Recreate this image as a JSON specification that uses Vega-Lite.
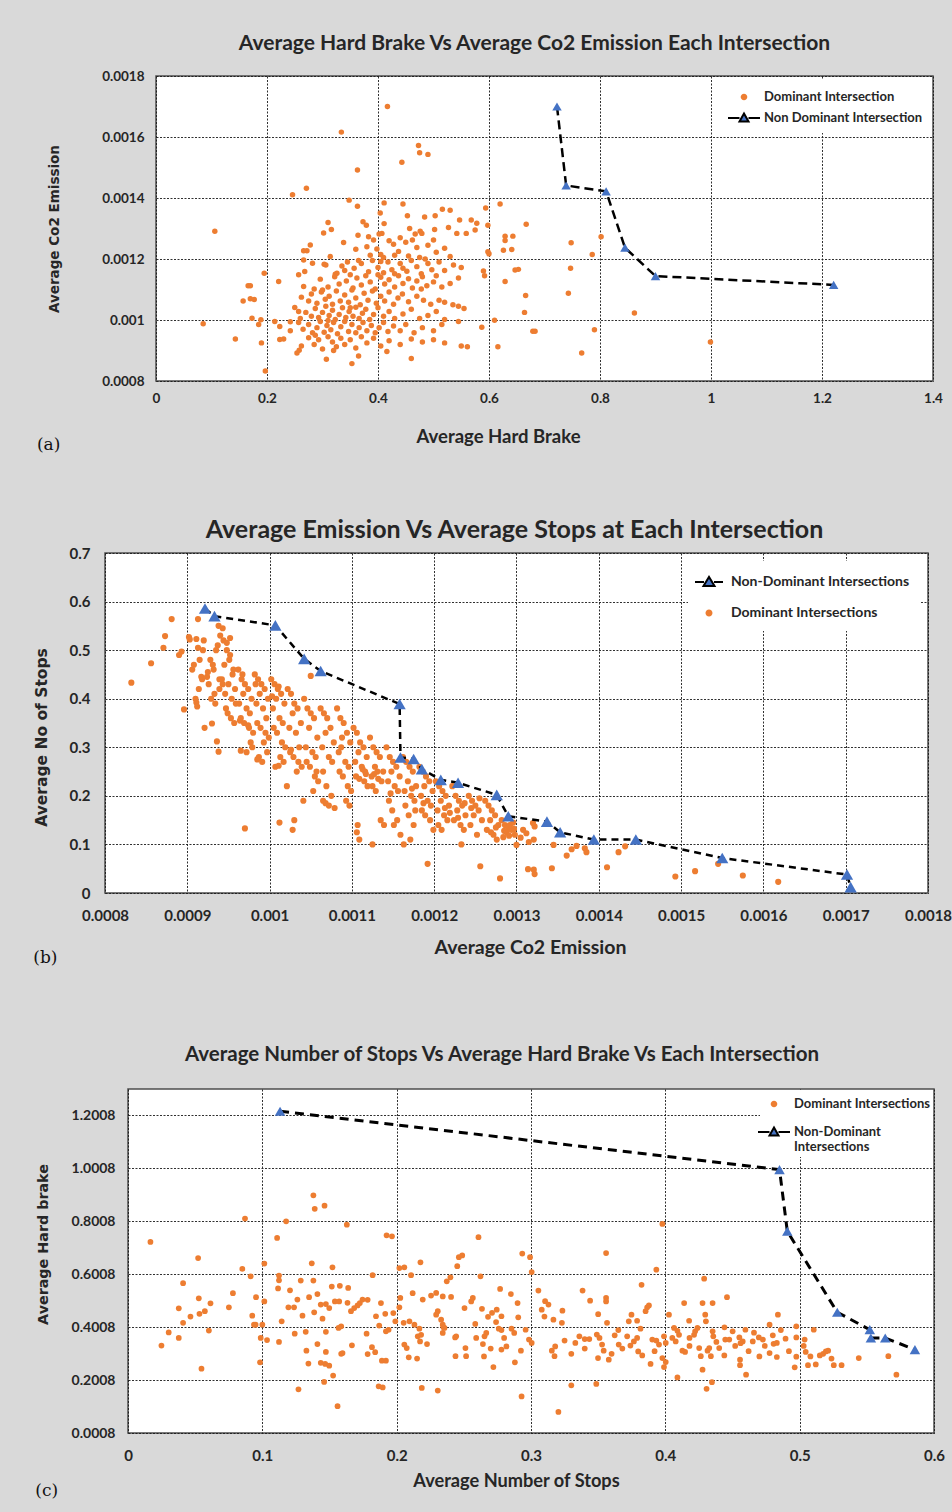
{
"$schema":"https://vega.github.io/schema/vega-lite/v6.json",
"padding":{"left":33,"top":32,"right":20,"bottom":14},
"background":"#d9d9d9",
"spacing":64,
"align":"none",
"resolve":{"scale":{"color":"independent"},"legend":{"color":"independent"}},
"config":{
 "view":{"fill":"white","stroke":"#4d4d4d","strokeWidth":1.5},
 "axis":{"grid":true,"gridColor":"#1a1a1a","gridDash":[2,1.5],"gridWidth":1,"gridOpacity":0.9,"domain":false,"ticks":false,"labelFont":"Lato","labelFontWeight":"bold","labelColor":"#262626","titleFont":"Lato","titleFontWeight":"bold","titleColor":"#262626","labelFlush":false,"labelOverlap":false},
 "title":{"font":"Lato","fontWeight":"bold","color":"#262626"},
 "legend":{"title":null,"fillColor":"white","symbolSize":400,"labelFont":"Lato","labelFontWeight":"bold","labelColor":"#262626","labelLimit":400,"symbolStrokeWidth":2,"symbolOpacity":1}
},
"datasets":{
"a_dom":[
{"x":0.417,"y":0.0017},{"x":0.334,"y":0.001616},{"x":0.473,"y":0.001572},{"x":0.475,"y":0.001548},{"x":0.49,"y":0.001543},{"x":0.443,"y":0.001517},{"x":0.363,"y":0.001492},{"x":0.246,"y":0.001411},{"x":0.271,"y":0.001432},{"x":0.348,"y":0.001393},{"x":0.363,"y":0.001373},{"x":0.411,"y":0.001384},{"x":0.445,"y":0.00138},{"x":0.62,"y":0.00138},{"x":0.404,"y":0.001351},{"x":0.594,"y":0.001367},{"x":0.516,"y":0.001363},{"x":0.53,"y":0.00136},{"x":0.503,"y":0.001342},{"x":0.453,"y":0.001342},{"x":0.484,"y":0.001338},{"x":0.667,"y":0.001314},{"x":0.106,"y":0.001291},
{"x":0.748,"y":0.001253},{"x":0.802,"y":0.001273},{"x":0.786,"y":0.001215},{"x":0.747,"y":0.00117},{"x":0.743,"y":0.001088},{"x":0.79,"y":0.000968},{"x":0.767,"y":0.000892},{"x":0.862,"y":0.001023},{"x":0.999,"y":0.000928},
{"x":0.629,"y":0.001275},{"x":0.643,"y":0.001275},{"x":0.629,"y":0.001261},{"x":0.626,"y":0.001229},{"x":0.641,"y":0.001231},{"x":0.647,"y":0.001164},{"x":0.653,"y":0.001166},{"x":0.59,"y":0.001161},{"x":0.592,"y":0.001145},{"x":0.629,"y":0.001126},{"x":0.666,"y":0.00108},{"x":0.664,"y":0.001025},{"x":0.679,"y":0.000963},{"x":0.683,"y":0.000963},{"x":0.61,"y":0.000999},{"x":0.587,"y":0.000976},{"x":0.616,"y":0.000912},{"x":0.561,"y":0.000912},{"x":0.46,"y":0.000874},{"x":0.416,"y":0.000897},{"x":0.365,"y":0.000882},{"x":0.353,"y":0.000857},{"x":0.307,"y":0.000871},{"x":0.197,"y":0.000833},{"x":0.085,"y":0.000988},{"x":0.143,"y":0.000938},{"x":0.157,"y":0.001062},{"x":0.17,"y":0.00107},{"x":0.177,"y":0.001067},{"x":0.166,"y":0.001112},{"x":0.17,"y":0.001112},{"x":0.173,"y":0.001006},{"x":0.185,"y":0.000985},{"x":0.189,"y":0.001001},{"x":0.214,"y":0.000995},{"x":0.223,"y":0.000979},{"x":0.223,"y":0.000936},{"x":0.195,"y":0.001153},{"x":0.221,"y":0.001126},{"x":0.242,"y":0.000994},{"x":0.257,"y":0.000992},{"x":0.254,"y":0.000892},{"x":0.258,"y":0.000901},
{"x":0.31,"y":0.00132},{"x":0.316,"y":0.001297},{"x":0.302,"y":0.001285},{"x":0.373,"y":0.001322},{"x":0.379,"y":0.001311},{"x":0.411,"y":0.001316},{"x":0.407,"y":0.001284},{"x":0.402,"y":0.001282},{"x":0.364,"y":0.001278},{"x":0.383,"y":0.001273},{"x":0.457,"y":0.0013},{"x":0.476,"y":0.001291},{"x":0.467,"y":0.001282},{"x":0.479,"y":0.001284},{"x":0.502,"y":0.001297},{"x":0.527,"y":0.001303},{"x":0.542,"y":0.001284},{"x":0.547,"y":0.001328},{"x":0.559,"y":0.001284},{"x":0.568,"y":0.001328},{"x":0.575,"y":0.001295},{"x":0.578,"y":0.001317},{"x":0.598,"y":0.001311},{"x":0.598,"y":0.001224},{"x":0.6,"y":0.001217},
{"x":0.266,"y":0.001227},{"x":0.272,"y":0.001227},{"x":0.278,"y":0.001246},{"x":0.314,"y":0.001208},{"x":0.338,"y":0.001254},{"x":0.335,"y":0.001177},{"x":0.38,"y":0.00124},{"x":0.392,"y":0.001262},{"x":0.398,"y":0.001233},{"x":0.405,"y":0.001215},{"x":0.42,"y":0.00126},{"x":0.428,"y":0.001248},{"x":0.437,"y":0.001225},{"x":0.45,"y":0.001255},{"x":0.455,"y":0.00121},{"x":0.47,"y":0.001238},{"x":0.49,"y":0.001245},{"x":0.505,"y":0.001222},{"x":0.52,"y":0.001235},{"x":0.36,"y":0.001232},{"x":0.41,"y":0.001205},{"x":0.462,"y":0.001262},{"x":0.44,"y":0.00127},{"x":0.43,"y":0.001212},{"x":0.5,"y":0.001262},{"x":0.386,"y":0.001212},{"x":0.475,"y":0.001205},{"x":0.53,"y":0.001208},
{"x":0.266,"y":0.001197},{"x":0.282,"y":0.001186},{"x":0.303,"y":0.001183},{"x":0.306,"y":0.00118},{"x":0.323,"y":0.00115},{"x":0.326,"y":0.001153},{"x":0.345,"y":0.00119},{"x":0.357,"y":0.00117},{"x":0.37,"y":0.001185},{"x":0.383,"y":0.001158},{"x":0.39,"y":0.001195},{"x":0.4,"y":0.001172},{"x":0.41,"y":0.001155},{"x":0.418,"y":0.00119},{"x":0.425,"y":0.001165},{"x":0.44,"y":0.001185},{"x":0.452,"y":0.00116},{"x":0.46,"y":0.001195},{"x":0.47,"y":0.001175},{"x":0.478,"y":0.001152},{"x":0.49,"y":0.001185},{"x":0.497,"y":0.001165},{"x":0.51,"y":0.00119},{"x":0.52,"y":0.001162},{"x":0.536,"y":0.00118},{"x":0.55,"y":0.001172},{"x":0.268,"y":0.001159},{"x":0.257,"y":0.001148},{"x":0.34,"y":0.001162},{"x":0.365,"y":0.001195},{"x":0.405,"y":0.001192},{"x":0.43,"y":0.001152},{"x":0.445,"y":0.00117},{"x":0.485,"y":0.0012},
{"x":0.266,"y":0.00111},{"x":0.296,"y":0.001134},{"x":0.31,"y":0.001108},{"x":0.322,"y":0.001142},{"x":0.33,"y":0.001118},{"x":0.343,"y":0.001128},{"x":0.355,"y":0.001105},{"x":0.362,"y":0.001138},{"x":0.37,"y":0.001115},{"x":0.378,"y":0.001145},{"x":0.386,"y":0.001125},{"x":0.395,"y":0.001102},{"x":0.405,"y":0.00114},{"x":0.412,"y":0.001118},{"x":0.42,"y":0.001132},{"x":0.43,"y":0.001108},{"x":0.437,"y":0.001145},{"x":0.445,"y":0.00112},{"x":0.455,"y":0.001135},{"x":0.462,"y":0.001105},{"x":0.47,"y":0.001128},{"x":0.48,"y":0.001142},{"x":0.488,"y":0.001112},{"x":0.5,"y":0.001125},{"x":0.505,"y":0.001145},{"x":0.515,"y":0.001108},{"x":0.53,"y":0.00112},{"x":0.478,"y":0.001102},{"x":0.4,"y":0.001148},{"x":0.35,"y":0.001148},{"x":0.285,"y":0.001102},{"x":0.545,"y":0.001138},
{"x":0.25,"y":0.001041},{"x":0.257,"y":0.001028},{"x":0.275,"y":0.001062},{"x":0.28,"y":0.001085},{"x":0.29,"y":0.001055},{"x":0.298,"y":0.001092},{"x":0.305,"y":0.001068},{"x":0.312,"y":0.001078},{"x":0.318,"y":0.001052},{"x":0.325,"y":0.001095},{"x":0.332,"y":0.001062},{"x":0.34,"y":0.001082},{"x":0.347,"y":0.001058},{"x":0.353,"y":0.001098},{"x":0.36,"y":0.001072},{"x":0.368,"y":0.00105},{"x":0.375,"y":0.001088},{"x":0.382,"y":0.001065},{"x":0.39,"y":0.001095},{"x":0.397,"y":0.001055},{"x":0.405,"y":0.001078},{"x":0.412,"y":0.001062},{"x":0.42,"y":0.001092},{"x":0.428,"y":0.001052},{"x":0.436,"y":0.001072},{"x":0.444,"y":0.001085},{"x":0.455,"y":0.00106},{"x":0.47,"y":0.001078},{"x":0.482,"y":0.001065},{"x":0.495,"y":0.001052},{"x":0.51,"y":0.001065},{"x":0.52,"y":0.001058},{"x":0.535,"y":0.00105},{"x":0.545,"y":0.001045},{"x":0.555,"y":0.001038},{"x":0.262,"y":0.001075},{"x":0.3,"y":0.001098},
{"x":0.26,"y":0.001005},{"x":0.27,"y":0.001025},{"x":0.28,"y":0.001012},{"x":0.287,"y":0.001038},{"x":0.293,"y":0.001008},{"x":0.3,"y":0.001025},{"x":0.306,"y":0.001045},{"x":0.312,"y":0.001015},{"x":0.318,"y":0.001032},{"x":0.323,"y":0.001002},{"x":0.33,"y":0.001018},{"x":0.336,"y":0.00104},{"x":0.342,"y":0.001008},{"x":0.348,"y":0.001028},{"x":0.355,"y":0.001012},{"x":0.36,"y":0.001042},{"x":0.366,"y":0.001005},{"x":0.372,"y":0.001022},{"x":0.378,"y":0.001035},{"x":0.385,"y":0.001002},{"x":0.392,"y":0.001018},{"x":0.4,"y":0.00104},{"x":0.41,"y":0.001012},{"x":0.42,"y":0.001028},{"x":0.43,"y":0.001005},{"x":0.445,"y":0.00102},{"x":0.46,"y":0.001035},{"x":0.475,"y":0.001005},{"x":0.49,"y":0.001015},{"x":0.505,"y":0.001028},{"x":0.52,"y":0.001002},{"x":0.545,"y":0.000995},{"x":0.31,"y":0.000998},{"x":0.35,"y":0.00104},
{"x":0.265,"y":0.00097},{"x":0.275,"y":0.000985},{"x":0.282,"y":0.000958},{"x":0.29,"y":0.000975},{"x":0.296,"y":0.000995},{"x":0.303,"y":0.00096},{"x":0.308,"y":0.000982},{"x":0.315,"y":0.000968},{"x":0.32,"y":0.000992},{"x":0.327,"y":0.000955},{"x":0.333,"y":0.000978},{"x":0.34,"y":0.000995},{"x":0.347,"y":0.000962},{"x":0.353,"y":0.000985},{"x":0.36,"y":0.000958},{"x":0.366,"y":0.000975},{"x":0.373,"y":0.000992},{"x":0.38,"y":0.000965},{"x":0.388,"y":0.000982},{"x":0.395,"y":0.000958},{"x":0.402,"y":0.000975},{"x":0.41,"y":0.000992},{"x":0.418,"y":0.000962},{"x":0.428,"y":0.00098},{"x":0.44,"y":0.000965},{"x":0.45,"y":0.000985},{"x":0.465,"y":0.000958},{"x":0.48,"y":0.000975},{"x":0.5,"y":0.000965},{"x":0.515,"y":0.000985},{"x":0.242,"y":0.000965},{"x":0.287,"y":0.00095},
{"x":0.19,"y":0.000925},{"x":0.23,"y":0.000938},{"x":0.262,"y":0.000915},{"x":0.275,"y":0.000942},{"x":0.285,"y":0.00092},{"x":0.293,"y":0.000935},{"x":0.3,"y":0.000905},{"x":0.31,"y":0.000945},{"x":0.318,"y":0.000928},{"x":0.325,"y":0.000912},{"x":0.333,"y":0.00094},{"x":0.34,"y":0.00092},{"x":0.35,"y":0.000935},{"x":0.36,"y":0.000908},{"x":0.37,"y":0.000945},{"x":0.38,"y":0.000925},{"x":0.392,"y":0.00094},{"x":0.405,"y":0.000915},{"x":0.42,"y":0.000932},{"x":0.44,"y":0.00092},{"x":0.46,"y":0.000938},{"x":0.48,"y":0.000928},{"x":0.5,"y":0.000935},{"x":0.52,"y":0.000925},{"x":0.55,"y":0.000915},{"x":0.32,"y":0.0009}
],
"a_nd":[{"x":0.7225,"y":0.0017},{"x":0.739,"y":0.001441},{"x":0.811,"y":0.001422},{"x":0.845,"y":0.001237},{"x":0.9,"y":0.001144},{"x":1.221,"y":0.001115}],
"b_dom":[
{"x":0.000832,"y":0.433},{"x":0.000856,"y":0.473},{"x":0.000871,"y":0.505},{"x":0.000873,"y":0.529},{"x":0.000881,"y":0.564},{"x":0.00089,"y":0.49},{"x":0.000893,"y":0.497},{"x":0.000896,"y":0.378},
{"x":0.000902,"y":0.527},{"x":0.000903,"y":0.522},{"x":0.000913,"y":0.564},{"x":0.000911,"y":0.523},{"x":0.000913,"y":0.505},{"x":0.000911,"y":0.392},{"x":0.000912,"y":0.384},{"x":0.000917,"y":0.445},{"x":0.00092,"y":0.52},{"x":0.000915,"y":0.48},{"x":0.000906,"y":0.46},{"x":0.000918,"y":0.44},{"x":0.000908,"y":0.47},{"x":0.000919,"y":0.5},{"x":0.000914,"y":0.42},{"x":0.00091,"y":0.4},
{"x":0.000921,"y":0.34},{"x":0.00093,"y":0.349},{"x":0.000936,"y":0.312},{"x":0.000938,"y":0.291},{"x":0.000924,"y":0.445},{"x":0.000935,"y":0.5},{"x":0.000928,"y":0.48},{"x":0.000932,"y":0.46},{"x":0.000926,"y":0.43},{"x":0.000939,"y":0.42},{"x":0.000933,"y":0.41},{"x":0.000929,"y":0.4},{"x":0.000937,"y":0.51},{"x":0.00094,"y":0.53},{"x":0.000938,"y":0.55},{"x":0.000943,"y":0.545},{"x":0.000931,"y":0.47},{"x":0.000925,"y":0.455},{"x":0.000934,"y":0.39},{"x":0.000939,"y":0.44},
{"x":0.000944,"y":0.52},{"x":0.000948,"y":0.5},{"x":0.000952,"y":0.49},{"x":0.000945,"y":0.47},{"x":0.000956,"y":0.46},{"x":0.000942,"y":0.44},{"x":0.00095,"y":0.43},{"x":0.000958,"y":0.42},{"x":0.000946,"y":0.41},{"x":0.000954,"y":0.4},{"x":0.000959,"y":0.39},{"x":0.000947,"y":0.38},{"x":0.000953,"y":0.36},{"x":0.000957,"y":0.35},{"x":0.000949,"y":0.37},{"x":0.000955,"y":0.45},{"x":0.000951,"y":0.48},{"x":0.000943,"y":0.43},{"x":0.000965,"y":0.293},{"x":0.000948,"y":0.515},{"x":0.000952,"y":0.525},
{"x":0.000962,"y":0.46},{"x":0.000966,"y":0.44},{"x":0.00097,"y":0.43},{"x":0.000974,"y":0.42},{"x":0.000968,"y":0.41},{"x":0.000978,"y":0.4},{"x":0.000963,"y":0.39},{"x":0.000972,"y":0.38},{"x":0.000976,"y":0.37},{"x":0.000965,"y":0.36},{"x":0.000969,"y":0.35},{"x":0.000975,"y":0.34},{"x":0.00098,"y":0.33},{"x":0.000977,"y":0.31},{"x":0.000979,"y":0.3},{"x":0.000972,"y":0.29},{"x":0.000967,"y":0.45},{"x":0.00097,"y":0.133},{"x":0.000974,"y":0.345},{"x":0.000964,"y":0.355},
{"x":0.000982,"y":0.45},{"x":0.000986,"y":0.44},{"x":0.00099,"y":0.43},{"x":0.000994,"y":0.42},{"x":0.000988,"y":0.41},{"x":0.000998,"y":0.4},{"x":0.000984,"y":0.39},{"x":0.000992,"y":0.38},{"x":0.000996,"y":0.36},{"x":0.000985,"y":0.35},{"x":0.000989,"y":0.34},{"x":0.000995,"y":0.33},{"x":0.000999,"y":0.32},{"x":0.000993,"y":0.31},{"x":0.000997,"y":0.29},{"x":0.000987,"y":0.28},{"x":0.000991,"y":0.27},{"x":0.000983,"y":0.43},{"x":0.000985,"y":0.275},
{"x":0.001002,"y":0.44},{"x":0.001006,"y":0.43},{"x":0.00101,"y":0.42},{"x":0.001014,"y":0.41},{"x":0.001008,"y":0.4},{"x":0.001018,"y":0.39},{"x":0.001004,"y":0.38},{"x":0.001012,"y":0.36},{"x":0.001016,"y":0.35},{"x":0.001005,"y":0.34},{"x":0.001009,"y":0.33},{"x":0.001015,"y":0.31},{"x":0.001019,"y":0.3},{"x":0.001013,"y":0.28},{"x":0.001017,"y":0.27},{"x":0.001007,"y":0.26},{"x":0.001011,"y":0.425},{"x":0.001003,"y":0.405},{"x":0.001011,"y":0.262},
{"x":0.001022,"y":0.42},{"x":0.001026,"y":0.41},{"x":0.00103,"y":0.39},{"x":0.001034,"y":0.38},{"x":0.001028,"y":0.37},{"x":0.001038,"y":0.35},{"x":0.001024,"y":0.34},{"x":0.001032,"y":0.33},{"x":0.001036,"y":0.3},{"x":0.001025,"y":0.29},{"x":0.001029,"y":0.28},{"x":0.001035,"y":0.27},{"x":0.001039,"y":0.26},{"x":0.001033,"y":0.25},{"x":0.001021,"y":0.22},{"x":0.001012,"y":0.145},{"x":0.001028,"y":0.13},{"x":0.00103,"y":0.15},{"x":0.001026,"y":0.295},
{"x":0.001042,"y":0.4},{"x":0.001046,"y":0.38},{"x":0.00105,"y":0.37},{"x":0.001054,"y":0.36},{"x":0.001048,"y":0.34},{"x":0.001058,"y":0.32},{"x":0.001044,"y":0.3},{"x":0.001052,"y":0.29},{"x":0.001056,"y":0.28},{"x":0.001045,"y":0.27},{"x":0.001049,"y":0.26},{"x":0.001055,"y":0.24},{"x":0.001059,"y":0.23},{"x":0.001041,"y":0.19},{"x":0.001053,"y":0.21},{"x":0.00105,"y":0.447},{"x":0.001057,"y":0.25},
{"x":0.001062,"y":0.38},{"x":0.001066,"y":0.37},{"x":0.00107,"y":0.36},{"x":0.001074,"y":0.34},{"x":0.001068,"y":0.33},{"x":0.001078,"y":0.31},{"x":0.001064,"y":0.3},{"x":0.001072,"y":0.28},{"x":0.001076,"y":0.27},{"x":0.001065,"y":0.25},{"x":0.001069,"y":0.22},{"x":0.001075,"y":0.2},{"x":0.001065,"y":0.19},{"x":0.001068,"y":0.185},{"x":0.001072,"y":0.18},{"x":0.001079,"y":0.175},
{"x":0.001082,"y":0.38},{"x":0.001086,"y":0.36},{"x":0.00109,"y":0.35},{"x":0.001094,"y":0.33},{"x":0.001088,"y":0.32},{"x":0.001098,"y":0.31},{"x":0.001084,"y":0.29},{"x":0.001092,"y":0.27},{"x":0.001096,"y":0.26},{"x":0.001085,"y":0.25},{"x":0.001089,"y":0.24},{"x":0.001095,"y":0.22},{"x":0.001099,"y":0.21},{"x":0.001093,"y":0.19},{"x":0.001097,"y":0.18},{"x":0.001087,"y":0.3},
{"x":0.001102,"y":0.34},{"x":0.001106,"y":0.33},{"x":0.00111,"y":0.31},{"x":0.001114,"y":0.3},{"x":0.001108,"y":0.29},{"x":0.001118,"y":0.28},{"x":0.001104,"y":0.27},{"x":0.001112,"y":0.26},{"x":0.001116,"y":0.25},{"x":0.001105,"y":0.24},{"x":0.001109,"y":0.235},{"x":0.001115,"y":0.23},{"x":0.001119,"y":0.22},{"x":0.001107,"y":0.14},{"x":0.001106,"y":0.125},{"x":0.001109,"y":0.11},{"x":0.001113,"y":0.255},{"x":0.001117,"y":0.245},
{"x":0.001122,"y":0.32},{"x":0.001126,"y":0.3},{"x":0.00113,"y":0.29},{"x":0.001134,"y":0.28},{"x":0.001128,"y":0.26},{"x":0.001138,"y":0.25},{"x":0.001124,"y":0.24},{"x":0.001132,"y":0.235},{"x":0.001136,"y":0.23},{"x":0.001125,"y":0.22},{"x":0.001129,"y":0.21},{"x":0.001135,"y":0.15},{"x":0.001125,"y":0.1},{"x":0.001139,"y":0.14},{"x":0.001131,"y":0.25},{"x":0.001127,"y":0.245},
{"x":0.001142,"y":0.3},{"x":0.001146,"y":0.28},{"x":0.00115,"y":0.27},{"x":0.001154,"y":0.26},{"x":0.001148,"y":0.25},{"x":0.001158,"y":0.24},{"x":0.001144,"y":0.23},{"x":0.001152,"y":0.22},{"x":0.001156,"y":0.21},{"x":0.001145,"y":0.19},{"x":0.001149,"y":0.17},{"x":0.001155,"y":0.15},{"x":0.001151,"y":0.14},{"x":0.001159,"y":0.12},{"x":0.001147,"y":0.205},
{"x":0.001162,"y":0.28},{"x":0.001166,"y":0.27},{"x":0.00117,"y":0.26},{"x":0.001174,"y":0.25},{"x":0.001168,"y":0.23},{"x":0.001178,"y":0.22},{"x":0.001164,"y":0.21},{"x":0.001172,"y":0.2},{"x":0.001176,"y":0.19},{"x":0.001165,"y":0.18},{"x":0.001169,"y":0.16},{"x":0.001175,"y":0.14},{"x":0.001163,"y":0.1},{"x":0.001171,"y":0.11},{"x":0.001177,"y":0.17},{"x":0.001173,"y":0.215},
{"x":0.001182,"y":0.26},{"x":0.001186,"y":0.25},{"x":0.00119,"y":0.24},{"x":0.001194,"y":0.23},{"x":0.001188,"y":0.22},{"x":0.001198,"y":0.21},{"x":0.001184,"y":0.2},{"x":0.001192,"y":0.19},{"x":0.001196,"y":0.18},{"x":0.001185,"y":0.17},{"x":0.001189,"y":0.16},{"x":0.001195,"y":0.15},{"x":0.001199,"y":0.13},{"x":0.001192,"y":0.06},{"x":0.001187,"y":0.185},
{"x":0.001202,"y":0.23},{"x":0.001206,"y":0.22},{"x":0.00121,"y":0.21},{"x":0.001214,"y":0.2},{"x":0.001208,"y":0.19},{"x":0.001218,"y":0.18},{"x":0.001204,"y":0.17},{"x":0.001212,"y":0.16},{"x":0.001216,"y":0.15},{"x":0.001205,"y":0.14},{"x":0.001209,"y":0.13},{"x":0.001213,"y":0.175},{"x":0.001219,"y":0.165},
{"x":0.001222,"y":0.22},{"x":0.001226,"y":0.2},{"x":0.00123,"y":0.19},{"x":0.001234,"y":0.18},{"x":0.001228,"y":0.17},{"x":0.001238,"y":0.16},{"x":0.001224,"y":0.15},{"x":0.001232,"y":0.14},{"x":0.001236,"y":0.13},{"x":0.001233,"y":0.1},{"x":0.001229,"y":0.155},{"x":0.001237,"y":0.185},
{"x":0.001242,"y":0.2},{"x":0.001246,"y":0.19},{"x":0.00125,"y":0.18},{"x":0.001254,"y":0.17},{"x":0.001248,"y":0.16},{"x":0.001258,"y":0.15},{"x":0.001244,"y":0.14},{"x":0.001252,"y":0.12},{"x":0.001256,"y":0.055},{"x":0.001245,"y":0.175},{"x":0.001255,"y":0.195},
{"x":0.001262,"y":0.19},{"x":0.001266,"y":0.18},{"x":0.00127,"y":0.17},{"x":0.001274,"y":0.16},{"x":0.001268,"y":0.15},{"x":0.001278,"y":0.14},{"x":0.001264,"y":0.13},{"x":0.001272,"y":0.12},{"x":0.001276,"y":0.11},{"x":0.00128,"y":0.03},{"x":0.001269,"y":0.125},{"x":0.001275,"y":0.135},
{"x":0.001282,"y":0.15},{"x":0.001286,"y":0.14},{"x":0.00129,"y":0.135},{"x":0.001294,"y":0.13},{"x":0.001288,"y":0.125},{"x":0.001298,"y":0.12},{"x":0.001284,"y":0.115},{"x":0.001292,"y":0.14},{"x":0.001296,"y":0.145},{"x":0.0013,"y":0.099},{"x":0.001291,"y":0.118},{"x":0.001285,"y":0.128},{"x":0.001297,"y":0.132},
{"x":0.001305,"y":0.114},{"x":0.001312,"y":0.123},{"x":0.001321,"y":0.11},{"x":0.001322,"y":0.137},{"x":0.00132,"y":0.144},{"x":0.001345,"y":0.099},{"x":0.001314,"y":0.049},{"x":0.001321,"y":0.048},{"x":0.001322,"y":0.039},{"x":0.001343,"y":0.051},{"x":0.001361,"y":0.077},{"x":0.001367,"y":0.09},{"x":0.001373,"y":0.097},{"x":0.001383,"y":0.092},{"x":0.001385,"y":0.084},{"x":0.00141,"y":0.053},{"x":0.001424,"y":0.084},{"x":0.001432,"y":0.096},{"x":0.001493,"y":0.034},{"x":0.001517,"y":0.045},{"x":0.001545,"y":0.06},{"x":0.001575,"y":0.036},{"x":0.001618,"y":0.023},{"x":0.001308,"y":0.13},{"x":0.001315,"y":0.105}
],
"b_nd":[{"x":0.0009215,"y":0.5856},{"x":0.000933,"y":0.57},{"x":0.001007,"y":0.551},{"x":0.001042,"y":0.482},{"x":0.001062,"y":0.457},{"x":0.001158,"y":0.389},{"x":0.001159,"y":0.279},{"x":0.001175,"y":0.276},{"x":0.001185,"y":0.255},{"x":0.001208,"y":0.233},{"x":0.001229,"y":0.227},{"x":0.001276,"y":0.202},{"x":0.00129,"y":0.158},{"x":0.001337,"y":0.147},{"x":0.001353,"y":0.125},{"x":0.001394,"y":0.11},{"x":0.001445,"y":0.11},{"x":0.00155,"y":0.072},{"x":0.0017016,"y":0.038},{"x":0.001706,"y":0.012}],
"c_dom":[
{"x":0.0167,"y":0.7228},{"x":0.0249,"y":0.331},{"x":0.0303,"y":0.381},{"x":0.0378,"y":0.36},{"x":0.0378,"y":0.472},{"x":0.041,"y":0.567},{"x":0.041,"y":0.417},{"x":0.0465,"y":0.441},{"x":0.0522,"y":0.662},{"x":0.0527,"y":0.51},{"x":0.0532,"y":0.451},{"x":0.0547,"y":0.244},{"x":0.0572,"y":0.461},{"x":0.0602,"y":0.388},{"x":0.0614,"y":0.491},{"x":0.0751,"y":0.476},{"x":0.0781,"y":0.529},{"x":0.0851,"y":0.621},{"x":0.0871,"y":0.811},{"x":0.0913,"y":0.593},{"x":0.0925,"y":0.444},{"x":0.0938,"y":0.41},{"x":0.095,"y":0.41},{"x":0.0983,"y":0.268},{"x":0.0953,"y":0.514},{"x":0.0988,"y":0.36},{"x":0.1035,"y":0.352},{"x":0.1,"y":0.41},{"x":0.1015,"y":0.498},{"x":0.1015,"y":0.641},{"x":0.111,"y":0.738},{"x":0.1124,"y":0.596},{"x":0.1124,"y":0.578},{"x":0.1117,"y":0.547},{"x":0.1124,"y":0.345},{"x":0.1144,"y":0.423},{"x":0.1177,"y":0.801},{"x":0.1206,"y":0.54},{"x":0.1194,"y":0.476},{"x":0.1236,"y":0.476},{"x":0.1241,"y":0.376},{"x":0.1269,"y":0.166},{"x":0.1261,"y":0.505},{"x":0.1286,"y":0.577},{"x":0.1299,"y":0.444},{"x":0.1323,"y":0.383},{"x":0.1328,"y":0.312},{"x":0.1348,"y":0.514},{"x":0.1368,"y":0.642},{"x":0.138,"y":0.899},{"x":0.139,"y":0.848},{"x":0.1463,"y":0.86},{"x":0.138,"y":0.577},{"x":0.1386,"y":0.457},{"x":0.141,"y":0.526},{"x":0.141,"y":0.337},{"x":0.1435,"y":0.486},{"x":0.1473,"y":0.488},{"x":0.1498,"y":0.473},{"x":0.1343,"y":0.263},{"x":0.1435,"y":0.266},{"x":0.1468,"y":0.262},{"x":0.1498,"y":0.255},{"x":0.1448,"y":0.433},{"x":0.1473,"y":0.383},{"x":0.1473,"y":0.307},{"x":0.146,"y":0.194},{"x":0.1522,"y":0.627},{"x":0.1527,"y":0.218},{"x":0.156,"y":0.102},{"x":0.1517,"y":0.554},{"x":0.1577,"y":0.557},{"x":0.154,"y":0.498},{"x":0.1572,"y":0.498},{"x":0.1567,"y":0.398},{"x":0.1587,"y":0.404},{"x":0.1587,"y":0.3},{"x":0.1597,"y":0.303},{"x":0.1629,"y":0.788},{"x":0.1634,"y":0.493},{"x":0.1639,"y":0.549},{"x":0.166,"y":0.461},{"x":0.1684,"y":0.473},{"x":0.1709,"y":0.483},{"x":0.1726,"y":0.492},{"x":0.1746,"y":0.505},{"x":0.1784,"y":0.504},{"x":0.1667,"y":0.332},{"x":0.1776,"y":0.376},{"x":0.1784,"y":0.299},{"x":0.1821,"y":0.597},{"x":0.1816,"y":0.325},{"x":0.184,"y":0.306},{"x":0.1846,"y":0.442},{"x":0.187,"y":0.407},{"x":0.1883,"y":0.492},{"x":0.189,"y":0.274},{"x":0.1866,"y":0.177},{"x":0.1896,"y":0.173},{"x":0.1915,"y":0.451},{"x":0.192,"y":0.385},{"x":0.194,"y":0.391},{"x":0.1925,"y":0.748},{"x":0.1965,"y":0.744},{"x":0.192,"y":0.274},{"x":0.1975,"y":0.454},{"x":0.199,"y":0.423},
{"x":0.202,"y":0.624},{"x":0.2057,"y":0.627},{"x":0.2107,"y":0.597},{"x":0.2177,"y":0.646},{"x":0.2027,"y":0.511},{"x":0.202,"y":0.476},{"x":0.2052,"y":0.417},{"x":0.2095,"y":0.423},{"x":0.2132,"y":0.41},{"x":0.2157,"y":0.366},{"x":0.2169,"y":0.395},{"x":0.2174,"y":0.347},{"x":0.2182,"y":0.372},{"x":0.2057,"y":0.335},{"x":0.2075,"y":0.322},{"x":0.209,"y":0.287},{"x":0.2152,"y":0.282},{"x":0.2119,"y":0.529},{"x":0.2194,"y":0.505},{"x":0.2187,"y":0.171},{"x":0.2306,"y":0.161},{"x":0.2226,"y":0.337},{"x":0.2256,"y":0.52},{"x":0.2294,"y":0.53},{"x":0.2343,"y":0.517},{"x":0.2405,"y":0.515},{"x":0.2294,"y":0.448},{"x":0.2306,"y":0.461},{"x":0.2331,"y":0.429},{"x":0.2343,"y":0.41},{"x":0.2356,"y":0.398},{"x":0.2348,"y":0.4},{"x":0.2343,"y":0.379},{"x":0.24,"y":0.589},{"x":0.2463,"y":0.665},{"x":0.2488,"y":0.672},{"x":0.2451,"y":0.631},{"x":0.2373,"y":0.574},{"x":0.2435,"y":0.362},{"x":0.2443,"y":0.366},{"x":0.2438,"y":0.291},{"x":0.2517,"y":0.291},{"x":0.2512,"y":0.322},{"x":0.2505,"y":0.473},{"x":0.2555,"y":0.498},{"x":0.2567,"y":0.511},{"x":0.2585,"y":0.413},{"x":0.2592,"y":0.36},{"x":0.2654,"y":0.366},{"x":0.2642,"y":0.337},{"x":0.2667,"y":0.379},{"x":0.2609,"y":0.741},{"x":0.2624,"y":0.593},
{"x":0.2635,"y":0.47},{"x":0.268,"y":0.44},{"x":0.271,"y":0.455},{"x":0.274,"y":0.42},{"x":0.276,"y":0.395},{"x":0.27,"y":0.32},{"x":0.272,"y":0.25},{"x":0.2745,"y":0.467},{"x":0.277,"y":0.545},{"x":0.265,"y":0.29},{"x":0.28,"y":0.36},
{"x":0.2935,"y":0.679},{"x":0.2993,"y":0.665},{"x":0.3005,"y":0.609},{"x":0.293,"y":0.139},{"x":0.285,"y":0.526},{"x":0.29,"y":0.492},{"x":0.2905,"y":0.438},{"x":0.278,"y":0.442},{"x":0.278,"y":0.39},{"x":0.2855,"y":0.395},{"x":0.2875,"y":0.379},{"x":0.296,"y":0.391},{"x":0.2817,"y":0.328},{"x":0.278,"y":0.316},{"x":0.2925,"y":0.312},{"x":0.288,"y":0.268},{"x":0.2985,"y":0.354},{"x":0.3005,"y":0.341},{"x":0.3055,"y":0.539},{"x":0.3105,"y":0.499},{"x":0.308,"y":0.467},{"x":0.313,"y":0.486},{"x":0.31,"y":0.441},{"x":0.3167,"y":0.429},{"x":0.3234,"y":0.463},{"x":0.323,"y":0.417},{"x":0.3155,"y":0.312},{"x":0.318,"y":0.328},{"x":0.3175,"y":0.291},{"x":0.3204,"y":0.0802},{"x":0.33,"y":0.181},{"x":0.333,"y":0.341},{"x":0.336,"y":0.366},{"x":0.34,"y":0.356},{"x":0.3434,"y":0.356},{"x":0.3384,"y":0.539},{"x":0.344,"y":0.501},{"x":0.3486,"y":0.186},{"x":0.349,"y":0.373},{"x":0.351,"y":0.36},{"x":0.3529,"y":0.335},{"x":0.3541,"y":0.312},{"x":0.3499,"y":0.284},{"x":0.3579,"y":0.278},{"x":0.3559,"y":0.681},{"x":0.3559,"y":0.511},{"x":0.3559,"y":0.498},{"x":0.3566,"y":0.417},{"x":0.3623,"y":0.37},{"x":0.3653,"y":0.335},{"x":0.3716,"y":0.366},{"x":0.374,"y":0.331},{"x":0.3766,"y":0.347},{"x":0.379,"y":0.36},{"x":0.3798,"y":0.309},{"x":0.3828,"y":0.294},{"x":0.3815,"y":0.395},{"x":0.379,"y":0.425},{"x":0.3728,"y":0.423},{"x":0.3748,"y":0.448},{"x":0.3823,"y":0.561},{"x":0.3853,"y":0.461},{"x":0.3865,"y":0.476},{"x":0.3878,"y":0.483},{"x":0.389,"y":0.262},
{"x":0.3903,"y":0.354},{"x":0.3933,"y":0.35},{"x":0.3953,"y":0.335},{"x":0.399,"y":0.366},{"x":0.4003,"y":0.341},{"x":0.3978,"y":0.284},{"x":0.399,"y":0.25},{"x":0.4003,"y":0.269},
{"x":0.3978,"y":0.791},{"x":0.3933,"y":0.618},{"x":0.4027,"y":0.448},{"x":0.4065,"y":0.398},{"x":0.409,"y":0.387},{"x":0.4102,"y":0.372},{"x":0.4052,"y":0.36},{"x":0.4077,"y":0.347},{"x":0.409,"y":0.211},{"x":0.414,"y":0.492},{"x":0.4277,"y":0.492},{"x":0.4352,"y":0.492},{"x":0.4127,"y":0.312},{"x":0.4147,"y":0.307},{"x":0.4177,"y":0.425},{"x":0.4222,"y":0.385},{"x":0.4214,"y":0.372},{"x":0.4239,"y":0.398},
{"x":0.4252,"y":0.322},{"x":0.4264,"y":0.291},{"x":0.4314,"y":0.312},{"x":0.4327,"y":0.322},{"x":0.4352,"y":0.385},{"x":0.4357,"y":0.366},{"x":0.4339,"y":0.291},
{"x":0.4277,"y":0.24},{"x":0.4289,"y":0.584},{"x":0.4297,"y":0.448},{"x":0.4302,"y":0.423},{"x":0.4307,"y":0.168},{"x":0.4347,"y":0.193},
{"x":0.4401,"y":0.322},{"x":0.4439,"y":0.294},{"x":0.4446,"y":0.354},{"x":0.4476,"y":0.354},{"x":0.4501,"y":0.385},{"x":0.4551,"y":0.362},{"x":0.4556,"y":0.278},{"x":0.4556,"y":0.257},{"x":0.4576,"y":0.347},{"x":0.4601,"y":0.221},{"x":0.4596,"y":0.391},{"x":0.4459,"y":0.514},
{"x":0.4651,"y":0.347},{"x":0.4696,"y":0.362},{"x":0.4726,"y":0.354},{"x":0.4776,"y":0.303},{"x":0.4776,"y":0.41},{"x":0.4806,"y":0.338},{"x":0.483,"y":0.341},{"x":0.483,"y":0.288},{"x":0.4838,"y":0.448},{"x":0.4895,"y":0.357},
{"x":0.4963,"y":0.249},{"x":0.4975,"y":0.289},{"x":0.4975,"y":0.362},{"x":0.4975,"y":0.404},{"x":0.5037,"y":0.354},{"x":0.5045,"y":0.307},{"x":0.5062,"y":0.257},{"x":0.5105,"y":0.391},
{"x":0.515,"y":0.294},{"x":0.5175,"y":0.3},{"x":0.5195,"y":0.309},{"x":0.5212,"y":0.312},{"x":0.5237,"y":0.282},{"x":0.5254,"y":0.257},{"x":0.5312,"y":0.257},{"x":0.544,"y":0.284},{"x":0.566,"y":0.291},{"x":0.572,"y":0.221},
{"x":0.418,"y":0.33},{"x":0.438,"y":0.345},{"x":0.452,"y":0.33},{"x":0.462,"y":0.31},{"x":0.466,"y":0.38},{"x":0.474,"y":0.33},{"x":0.486,"y":0.39},{"x":0.492,"y":0.31},{"x":0.503,"y":0.33},{"x":0.512,"y":0.26},{"x":0.508,"y":0.29},{"x":0.418,"y":0.36},{"x":0.444,"y":0.4},{"x":0.456,"y":0.34},{"x":0.47,"y":0.29},{"x":0.48,"y":0.37},{"x":0.35,"y":0.45},{"x":0.368,"y":0.32},{"x":0.36,"y":0.3},{"x":0.33,"y":0.3},{"x":0.34,"y":0.32},{"x":0.325,"y":0.35},{"x":0.365,"y":0.39},{"x":0.392,"y":0.31}
],
"c_nd":[{"x":0.1132,"y":1.2167},{"x":0.485,"y":0.9962},{"x":0.4908,"y":0.763},{"x":0.528,"y":0.457},{"x":0.5522,"y":0.3914},{"x":0.553,"y":0.36},{"x":0.5637,"y":0.36},{"x":0.5858,"y":0.316}]
},
"vconcat":[
{
 "title":{"text":"(a)","orient":"bottom","anchor":"start","font":"DejaVu Serif","fontWeight":"normal","fontSize":17,"color":"#111111","offset":-10,"dx":-10},
 "bounds":"flush",
 "spacing":0,
 "resolve":{"scale":{"color":"independent"},"legend":{"color":"independent"}},
 "hconcat":[
 {"width":51,"height":1,"view":{"stroke":null,"fill":null},"data":{"values":[]},"mark":{"type":"point","opacity":0}},
 {
  "width":777,"height":305,
  "title":{"text":"Average Hard Brake Vs Average Co2 Emission  Each Intersection","fontSize":21,"frame":"group","offset":15,"dx":-10},
  "layer":[
   {"data":{"name":"a_dom"},"mark":{"type":"circle","size":30,"opacity":1},
    "encoding":{
     "x":{"field":"x","type":"quantitative","scale":{"domain":[0,1.4],"nice":false,"zero":false},"axis":{"values":[0,0.2,0.4,0.6,0.8,1,1.2,1.4],"labelExpr":"format(datum.value,'.1~f')","labelOverlap":false,"title":"Average Hard Brake","titleFontSize":18.5,"titlePadding":23,"labelFontSize":13.5,"labelPadding":10,"titleX":342}},
     "y":{"field":"y","type":"quantitative","scale":{"domain":[0.0008,0.0018],"nice":false,"zero":false},"axis":{"values":[0.0008,0.0009,0.001,0.0011,0.0012,0.0013,0.0014,0.0015,0.0016,0.0017,0.0018],"labelExpr":"format(datum.value,'.4~f')","labelOverlap":false,"title":"Average Co2 Emission","titleFont":"DejaVu Sans","titleFontSize":13.5,"titlePadding":40,"labelFontSize":13.5,"labelPadding":12}},
     "color":{"datum":"Dominant Intersection","scale":{"domain":["Dominant Intersection","Non Dominant Intersection"],"range":["#ED7D31","#4472C4"]},
      "legend":{"orient":"top-right","offset":3,"padding":7,"labelFontSize":13,"labelOffset":9,"rowPadding":2,
       "symbolType":{"expr":"indexof(datum.value,'Non')===0 ? 'M-1.6,0L-0.45,0M0.45,0L1.6,0M-0.45,0.35L0,-0.45L0.45,0.35Z' : 'M-0.33,0A0.33,0.33,0,1,1,0.33,0A0.33,0.33,0,1,1,-0.33,0Z'"},
       "symbolStrokeColor":{"expr":"indexof(datum.value,'Non')===0 ? 'black' : 'transparent'"}}}
    }},
   {"data":{"name":"a_nd"},"mark":{"type":"line","color":"#000000","strokeDash":[9,5],"strokeWidth":2.5},
    "encoding":{"x":{"field":"x","type":"quantitative"},"y":{"field":"y","type":"quantitative"}}},
   {"data":{"name":"a_nd"},"mark":{"type":"point","shape":"triangle-up","filled":true,"size":90,"opacity":1},
    "encoding":{"x":{"field":"x","type":"quantitative"},"y":{"field":"y","type":"quantitative"},"color":{"datum":"Non Dominant Intersection"}}}
  ]
 }]
},
{
 "spacing":76,
 "align":"none",
 "resolve":{"scale":{"color":"independent"},"legend":{"color":"independent"}},
 "vconcat":[
 {
 "title":{"text":"(b)","orient":"bottom","anchor":"start","font":"DejaVu Serif","fontWeight":"normal","fontSize":17,"color":"#111111","offset":-7,"dx":0},
 "resolve":{"scale":{"color":"independent"},"legend":{"color":"independent"}},
 "vconcat":[{
  "width":823,"height":340,
  "title":{"text":"Average Emission Vs Average Stops at Each Intersection","fontSize":25,"frame":"group","offset":3,"dx":-2},
  "layer":[
   {"data":{"name":"b_dom"},"mark":{"type":"circle","size":38,"opacity":1},
    "encoding":{
     "x":{"field":"x","type":"quantitative","scale":{"domain":[0.0008,0.0018],"nice":false,"zero":false},"axis":{"values":[0.0008,0.0009,0.001,0.0011,0.0012,0.0013,0.0014,0.0015,0.0016,0.0017,0.0018],"labelExpr":"format(datum.value,'.4~f')","labelOverlap":false,"title":"Average Co2 Emission","titleFontSize":19.5,"titlePadding":15,"labelFontSize":15,"labelPadding":15,"titleX":425}},
     "y":{"field":"y","type":"quantitative","scale":{"domain":[0,0.7],"nice":false,"zero":false},"axis":{"values":[0,0.1,0.2,0.3,0.4,0.5,0.6,0.7],"labelExpr":"format(datum.value,'.1~f')","labelOverlap":false,"title":"Average No of Stops","titleFont":"DejaVu Sans","titleFontSize":15.5,"titlePadding":20,"labelFontSize":15,"labelPadding":15,"titleY":184}},
     "color":{"datum":"Dominant Intersections","scale":{"domain":["Non-Dominant Intersections","Dominant Intersections"],"range":["#4472C4","#ED7D31"]},
      "legend":{"orient":"top-right","offset":8,"padding":10,"labelFontSize":14,"labelOffset":11,"rowPadding":12,
       "symbolType":{"expr":"indexof(datum.value,'Non')===0 ? 'M-1.4,0L-0.5,0M0.5,0L1.4,0M-0.55,0.4L0,-0.5L0.55,0.4Z' : 'M-0.35,0A0.35,0.35,0,1,1,0.35,0A0.35,0.35,0,1,1,-0.35,0Z'"},
       "symbolStrokeColor":{"expr":"indexof(datum.value,'Non')===0 ? 'black' : 'transparent'"}}}
    }},
   {"data":{"name":"b_nd"},"mark":{"type":"line","color":"#000000","strokeDash":[7,5],"strokeWidth":2.5},
    "encoding":{"x":{"field":"x","type":"quantitative"},"y":{"field":"y","type":"quantitative"}}},
   {"data":{"name":"b_nd"},"mark":{"type":"point","shape":"triangle-up","filled":true,"size":150,"opacity":1},
    "encoding":{"x":{"field":"x","type":"quantitative"},"y":{"field":"y","type":"quantitative"},"color":{"datum":"Non-Dominant Intersections"}}}
  ]
 }]
 },
 {
 "title":{"text":"(c)","orient":"bottom","anchor":"start","font":"DejaVu Serif","fontWeight":"normal","fontSize":17,"color":"#111111","offset":-7,"dx":0},
 "bounds":"flush",
 "spacing":0,
 "resolve":{"scale":{"color":"independent"},"legend":{"color":"independent"}},
 "hconcat":[
 {"width":23,"height":1,"view":{"stroke":null,"fill":null},"data":{"values":[]},"mark":{"type":"point","opacity":0}},
 {
  "width":806,"height":344,
  "title":{"text":"Average Number of Stops Vs Average Hard Brake Vs Each Intersection","fontSize":20.5,"frame":"group","offset":24,"dx":-29},
  "layer":[
   {"data":{"name":"c_dom"},"mark":{"type":"circle","size":33,"opacity":1},
    "encoding":{
     "x":{"field":"x","type":"quantitative","scale":{"domain":[0,0.6],"nice":false,"zero":false},"axis":{"values":[0,0.1,0.2,0.3,0.4,0.5,0.6],"labelExpr":"format(datum.value,'.1~f')","labelOverlap":false,"title":"Average Number of Stops","titleFontSize":18.2,"titlePadding":9,"labelFontSize":15,"labelPadding":15,"titleX":388}},
     "y":{"field":"y","type":"quantitative","scale":{"domain":[0.0008,1.3008],"nice":false,"zero":false},"axis":{"values":[0.0008,0.2008,0.4008,0.6008,0.8008,1.0008,1.2008],"labelExpr":"format(datum.value,'.4f')","labelOverlap":false,"title":"Average Hard brake","titleFont":"DejaVu Sans","titleFontSize":14.3,"titlePadding":21,"labelFontSize":14,"labelPadding":13,"titleY":155}},
     "color":{"datum":"Dominant Intersections","scale":{"domain":["Dominant Intersections","Non-Dominant Intersections"],"range":["#ED7D31","#4472C4"]},
      "legend":{"orient":"top-right","offset":1,"padding":3,"labelFontSize":13,"labelOffset":9,"rowPadding":9,
       "labelExpr":"datum.label === 'Non-Dominant Intersections' ? ['Non-Dominant', 'Intersections'] : datum.label",
       "symbolType":{"expr":"indexof(datum.value,'Non')===0 ? 'M-1.6,0L-0.45,0M0.45,0L1.6,0M-0.45,0.35L0,-0.45L0.45,0.35Z' : 'M-0.33,0A0.33,0.33,0,1,1,0.33,0A0.33,0.33,0,1,1,-0.33,0Z'"},
       "symbolStrokeColor":{"expr":"indexof(datum.value,'Non')===0 ? 'black' : 'transparent'"}}}
    }},
   {"data":{"name":"c_nd"},"mark":{"type":"line","color":"#000000","strokeDash":[9,6],"strokeWidth":3},
    "encoding":{"x":{"field":"x","type":"quantitative"},"y":{"field":"y","type":"quantitative"}}},
   {"data":{"name":"c_nd"},"mark":{"type":"point","shape":"triangle-up","filled":true,"size":110,"opacity":1},
    "encoding":{"x":{"field":"x","type":"quantitative"},"y":{"field":"y","type":"quantitative"},"color":{"datum":"Non-Dominant Intersections"}}}
  ]
 }]
 }
 ]
}
]
}
